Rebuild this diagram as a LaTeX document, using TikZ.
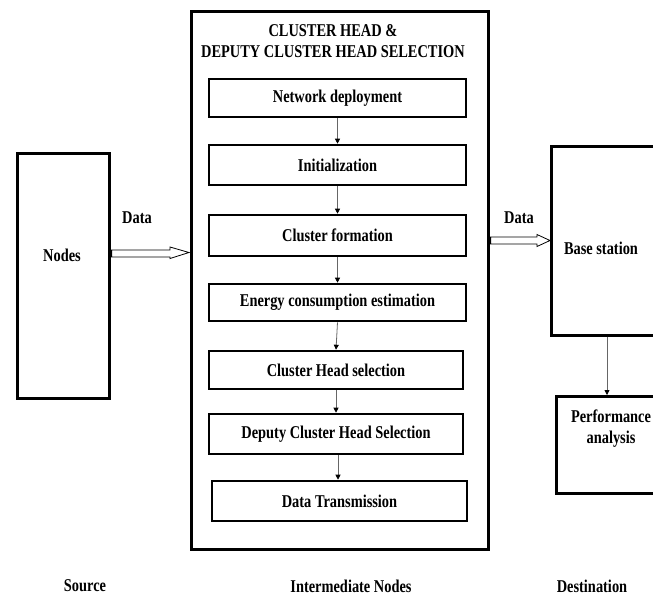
\documentclass[tikz,border=0pt]{standalone}
\usepackage{fontspec}
\setmainfont{Liberation Serif}[FakeStretch=0.8]
\usetikzlibrary{arrows.meta,calc}
\begin{document}
\begin{tikzpicture}[x=1pt,y=-1pt,
  every node/.style={font=\bfseries\fontsize{18}{21}\selectfont, text=black},
  thickbox/.style={draw, line width=2.6pt, anchor=north west},
  stepbox/.style={draw, line width=2.6pt, minimum width=257pt, minimum height=38pt, inner sep=0pt},
  flow/.style={draw=black!60, line width=0.8pt, -{Triangle[length=5pt,width=5pt,fill=black,color=black]}},
  hollow/.style={line width=0.8pt, fill=white},
  lbl/.style={inner sep=0pt}]
\useasboundingbox (0,0) rectangle (653,595);
\clip (0,0) rectangle (653,595);
% source
\node[thickbox, minimum width=92pt, minimum height=245pt] (src) at (16,152) {};
\node[lbl] (srct) at (62,255) {Nodes};
% big box
\node[thickbox, minimum width=297pt, minimum height=538pt] (big) at (190,10) {};
\node[lbl, align=center] (title) at (333,41) {CLUSTER HEAD \&\\DEPUTY CLUSTER HEAD SELECTION};
% steps
\node[stepbox] (s1) at (337.5,98) {Network deployment};
\node[stepbox, minimum height=40pt] (s2) at (337.5,165) {Initialization};
\node[stepbox, minimum height=41pt] (s3) at (337.5,235.5) {Cluster formation};
\node[stepbox, minimum height=37pt] (s4) at (337.5,302.5) {Energy consumption estimation};
\node[stepbox, minimum width=254pt] (s5) at (336,370) {Cluster Head selection};
\node[stepbox, minimum height=40pt, minimum width=254pt] (s6) at (336,434) {Deputy Cluster Head Selection};
\node[stepbox, minimum height=40pt, minimum width=255pt] (s7) at (339.5,501) {Data Transmission};
\draw[flow] (s1.south) -- (s2.north);
\draw[flow] (s2.south) -- (s3.north);
\draw[flow] (s3.south) -- (s4.north);
\draw[flow] (s4.south) -- (s5.north);
\draw[flow] (s5.south) -- (s6.north);
\draw[flow] ($(s6.south)+(2,0)$) -- ($(s7.north)+(-1.5,0)$);
% data arrow 1
\node[lbl] (d1) at (137,218) {Data};
\coordinate (ya) at (0,250);
\coordinate (yb) at (0,257);
\coordinate (yc) at (0,247);
\coordinate (yd) at (0,258.5);
\coordinate (ye) at (0,252.5);
\coordinate (hx) at (170,0);
\draw[hollow] ($(src.east |- ya)+(1,0)$) -- (hx |- ya) -- (hx |- yc) -- ($(big.west |- ye)+(-1,0)$) -- (hx |- yd) -- (hx |- yb) -- ($(src.east |- yb)+(1,0)$) -- cycle;
% destination
\node[thickbox, minimum width=120pt, minimum height=189pt] (bs) at (550,145) {};
\node[lbl] (bst) at (601,248) {Base station};
\node[lbl] (d2) at (519,218) {Data};
\coordinate (ra) at (0,237);
\coordinate (rb) at (0,244);
\coordinate (rc) at (0,234.5);
\coordinate (rd) at (0,246.5);
\coordinate (re) at (0,240.5);
\coordinate (rx) at (537,0);
\draw[hollow] ($(big.east |- ra)+(1,0)$) -- (rx |- ra) -- (rx |- rc) -- ($(bs.west |- re)+(0,0)$) -- (rx |- rd) -- (rx |- rb) -- ($(big.east |- rb)+(1,0)$) -- cycle;
\node[thickbox, minimum width=120pt, minimum height=97pt] (pa) at (555,395) {};
\node[lbl, align=center] (pat) at (611,429) {Performance\\analysis};
\draw[flow] (bs.south -| 607,0) -- (pa.north -| 607,0);
% bottom labels
\node[lbl] (l1) at (85,586) {Source};
\node[lbl] (l2) at (351,586) {Intermediate Nodes};
\node[lbl] (l3) at (592,586) {Destination};
\end{tikzpicture}
\end{document}
